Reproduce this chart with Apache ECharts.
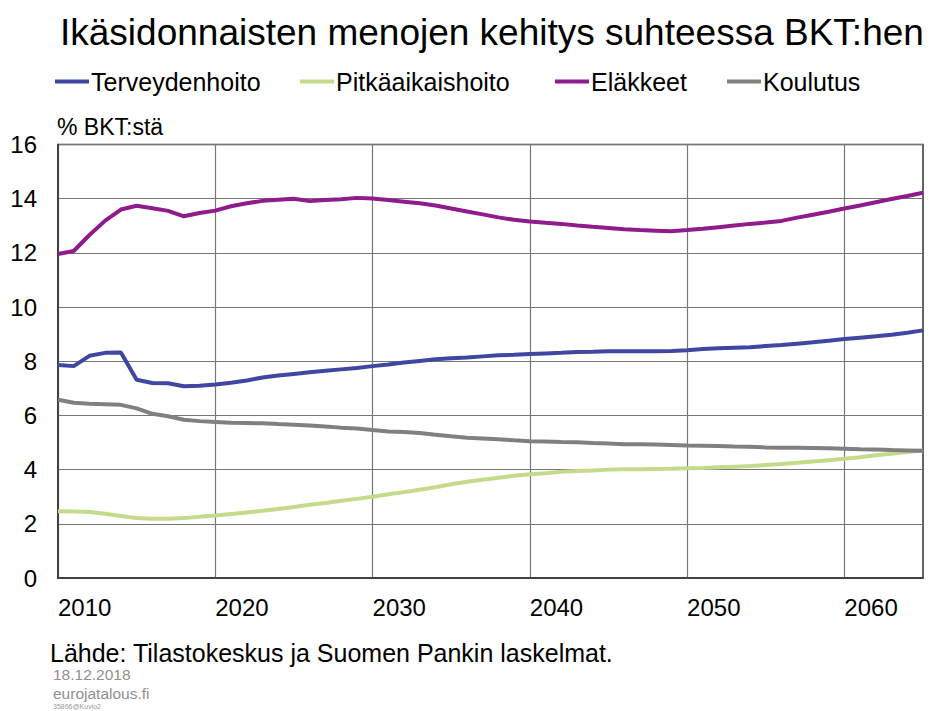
<!DOCTYPE html>
<html>
<head>
<meta charset="utf-8">
<title>Ikäsidonnaisten menojen kehitys</title>
<script src="https://cdn.jsdelivr.net/npm/echarts@6/dist/echarts.min.js"></script>
<style>
  html, body { margin: 0; padding: 0; background: #fff; }
  #chart { width: 933px; height: 711px; }
</style>
</head>
<body>
<div id="chart"></div>
<script>
// vuodet 2010-2065
var years = ['2010','2011','2012','2013','2014','2015','2016','2017','2018','2019',
  '2020','2021','2022','2023','2024','2025','2026','2027','2028','2029',
  '2030','2031','2032','2033','2034','2035','2036','2037','2038','2039',
  '2040','2041','2042','2043','2044','2045','2046','2047','2048','2049',
  '2050','2051','2052','2053','2054','2055','2056','2057','2058','2059',
  '2060','2061','2062','2063','2064','2065'];

var terveydenhoito = [7.86, 7.82, 8.2, 8.31, 8.32, 7.32, 7.2, 7.19, 7.08, 7.1,
  7.14, 7.21, 7.29, 7.4, 7.47, 7.53, 7.59, 7.65, 7.7, 7.75,
  7.82, 7.88, 7.95, 8.01, 8.07, 8.11, 8.14, 8.18, 8.22, 8.24,
  8.27, 8.29, 8.31, 8.34, 8.35, 8.37, 8.37, 8.37, 8.37, 8.38,
  8.41, 8.45, 8.48, 8.5, 8.52, 8.56, 8.6, 8.65, 8.7, 8.76,
  8.82, 8.87, 8.92, 8.98, 9.05, 9.14];

var pitkaaikaishoito = [2.46, 2.45, 2.44, 2.37, 2.29, 2.21, 2.19, 2.19, 2.21, 2.26,
  2.31, 2.36, 2.42, 2.48, 2.55, 2.62, 2.7, 2.77, 2.85, 2.92,
  3.0, 3.09, 3.17, 3.26, 3.35, 3.46, 3.55, 3.63, 3.7, 3.77,
  3.83, 3.87, 3.92, 3.95, 3.97, 4.0, 4.01, 4.01, 4.02, 4.03,
  4.05, 4.06, 4.09, 4.11, 4.13, 4.17, 4.21, 4.25, 4.3, 4.35,
  4.4, 4.46, 4.53, 4.59, 4.65, 4.71];

var elakkeet = [11.96, 12.07, 12.66, 13.19, 13.6, 13.74, 13.65, 13.55, 13.35, 13.47,
  13.56, 13.72, 13.83, 13.92, 13.96, 14.0, 13.91, 13.95, 13.98, 14.03,
  14.01, 13.95, 13.89, 13.83, 13.75, 13.64, 13.53, 13.42, 13.31, 13.22,
  13.16, 13.11, 13.07, 13.01, 12.96, 12.92, 12.87, 12.84, 12.82, 12.8,
  12.84, 12.89, 12.95, 13.01, 13.07, 13.12, 13.18, 13.3, 13.41, 13.52,
  13.64, 13.75, 13.87, 13.99, 14.1, 14.22];

var koulutus = [6.58, 6.47, 6.43, 6.41, 6.39, 6.26, 6.06, 5.97, 5.84, 5.79,
  5.76, 5.73, 5.72, 5.71, 5.68, 5.66, 5.63, 5.59, 5.55, 5.52,
  5.46, 5.41, 5.39, 5.35, 5.29, 5.23, 5.18, 5.15, 5.12, 5.08,
  5.05, 5.04, 5.02, 5.01, 4.98, 4.96, 4.94, 4.94, 4.93, 4.91,
  4.89, 4.88, 4.87, 4.85, 4.84, 4.82, 4.81, 4.81, 4.8, 4.79,
  4.77, 4.75, 4.74, 4.72, 4.71, 4.7];

var font = '"Liberation Sans", Arial, sans-serif';

function lineSeries(name, data, color) {
  return {
    name: name,
    type: 'line',
    data: data,
    showSymbol: false,
    symbol: 'none',
    lineStyle: { color: color, width: 4 },
    itemStyle: { color: color }
  };
}

// yksi legenda per sarja, jotta sijainnit osuvat kohdalleen
function legendItem(name, left) {
  return {
    left: left,
    top: 64,
    icon: 'rect',
    itemWidth: 34,
    itemHeight: 4,
    itemGap: 0,
    textStyle: { fontFamily: font, fontSize: 25, color: '#000', padding: [0, 0, 0, -3] },
    data: [name]
  };
}

var chart = echarts.init(document.getElementById('chart'), null, { renderer: 'svg' });
chart.setOption({
  backgroundColor: '#fff',
  animation: false,
  title: {
    text: 'Ikäsidonnaisten menojen kehitys suhteessa BKT:hen',
    left: 55,
    top: 9,
    textStyle: { fontFamily: font, fontSize: 37, fontWeight: 'normal', color: '#000' }
  },
  legend: [
    legendItem('Terveydenhoito', 50),
    legendItem('Pitkäaikaishoito', 295),
    legendItem('Eläkkeet', 550),
    legendItem('Koulutus', 722)
  ],
  grid: {
    left: 58,
    right: 10,
    top: 144.5,
    bottom: 133,
    show: true,
    borderColor: '#333',
    borderWidth: 1.5
  },
  xAxis: {
    type: 'category',
    data: years,
    boundaryGap: false,
    axisLine: { lineStyle: { color: '#333', width: 1.5 } },
    axisTick: { show: false },
    axisLabel: {
      interval: 9,
      align: 'left',
      margin: 17,
      fontFamily: font,
      fontSize: 24,
      color: '#000'
    },
    splitLine: { show: true, interval: 9, lineStyle: { color: '#777', width: 1.2 } }
  },
  yAxis: {
    type: 'value',
    min: 0,
    max: 16,
    interval: 2,
    axisLine: { show: true, lineStyle: { color: '#333', width: 1.5 } },
    axisTick: { show: false },
    axisLabel: { margin: 21, fontFamily: font, fontSize: 24, color: '#000' },
    splitLine: { lineStyle: { color: '#777', width: 1.2 } }
  },
  graphic: [
    { type: 'text', left: 57, top: 115, style: { text: '% BKT:stä', font: '23px ' + font, fill: '#000' } },
    { type: 'text', left: 50, top: 640, style: { text: 'Lähde: Tilastokeskus ja Suomen Pankin laskelmat.', font: '25px ' + font, fill: '#000' } },
    { type: 'text', left: 53, top: 666, style: { text: '18.12.2018', font: '15.5px ' + font, fill: '#909090' } },
    { type: 'text', left: 53, top: 685, style: { text: 'eurojatalous.fi', font: '15.5px ' + font, fill: '#909090' } },
    { type: 'text', left: 53, top: 703, style: { text: '35896@Kuvio2', font: '7px ' + font, fill: '#999' } }
  ],
  series: [
    lineSeries('Terveydenhoito', terveydenhoito, '#3f47a3'),
    lineSeries('Pitkäaikaishoito', pitkaaikaishoito, '#c6da8c'),
    lineSeries('Eläkkeet', elakkeet, '#8f1b8c'),
    lineSeries('Koulutus', koulutus, '#808080')
  ]
});
</script>
</body>
</html>
